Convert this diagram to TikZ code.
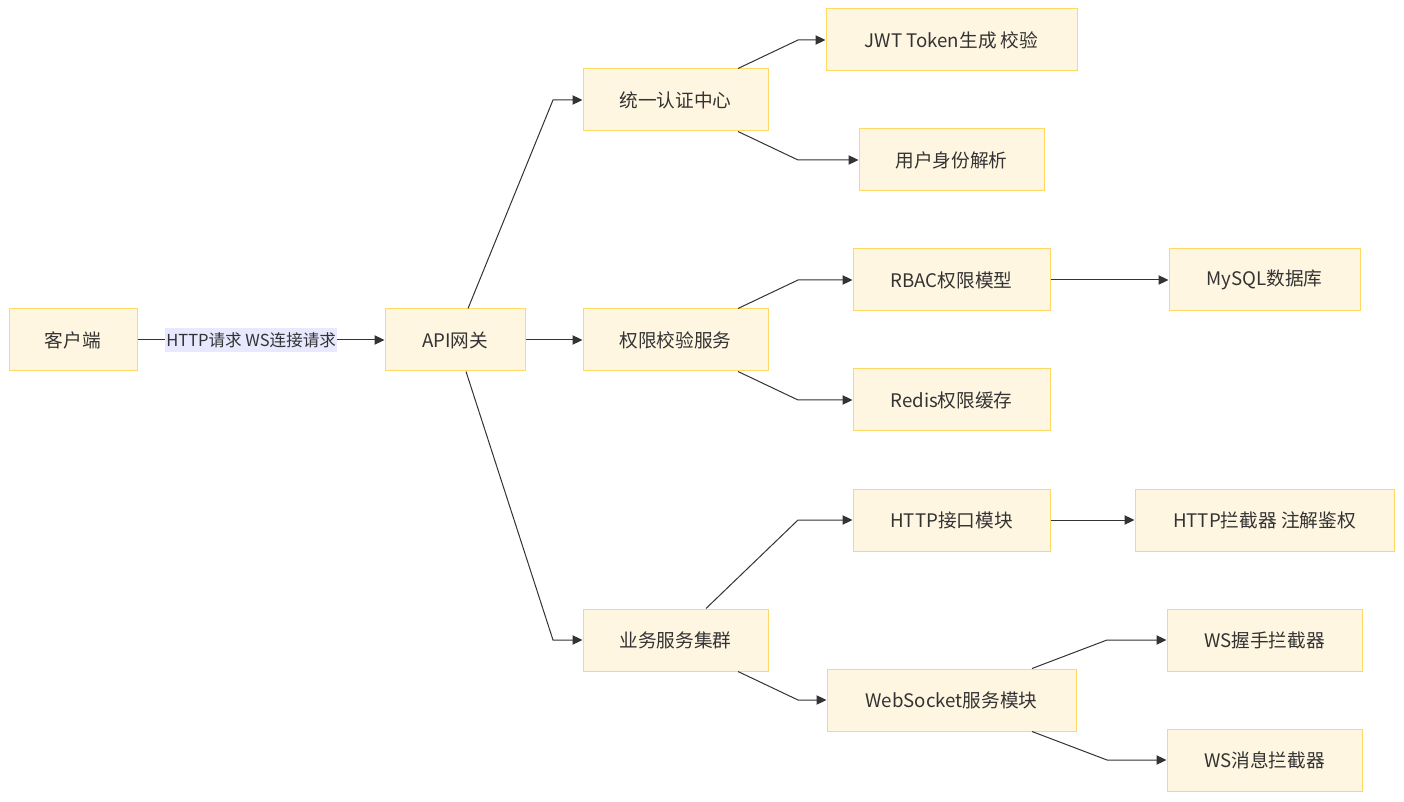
\documentclass[tikz,border=0pt]{standalone}
\usepackage{fontspec}
\setmainfont{Noto Sans CJK SC}
\usetikzlibrary{arrows.meta,calc}
\definecolor{boxfill}{HTML}{FFF6E2}
\definecolor{boxline}{HTML}{FFD966}
\definecolor{txt}{HTML}{333333}
\definecolor{lblbg}{HTML}{E8E8FF}
\begin{document}
\begin{tikzpicture}[x=0.75pt,y=-0.75pt,
  box/.style={draw=boxline,fill=boxfill,line width=0.75pt,text=txt,font=\fontsize{14}{16}\selectfont,inner sep=0pt,minimum height=46.5pt},
  arr/.style={draw=txt,line width=0.75pt,-{Triangle[length=7.5pt,width=7pt]}},
  lbl/.style={fill=lblbg,text=txt,font=\fontsize{12.4}{14}\selectfont,inner xsep=1pt,inner ysep=3pt}]
\useasboundingbox (0,0) rectangle (1404,802);
\fill[white] (0,0) rectangle (1404,802);
\node[box,minimum width=96pt] (client) at (73,340) {客户端};
\node[box,minimum width=105pt] (api) at (455,340) {API网关};
\node[box,minimum width=138.75pt] (auth) at (675.5,100) {统一认证中心};
\node[box,minimum width=138.75pt] (perm) at (675.5,340) {权限校验服务};
\node[box,minimum width=138.75pt] (biz) at (675.5,640) {业务服务集群};
\node[box,minimum width=188.25pt] (jwt) at (951.5,40) {JWT Token生成 校验};
\node[box,minimum width=138.75pt] (ident) at (951.5,160) {用户身份解析};
\node[box,minimum width=147.75pt] (rbac) at (951.5,280) {RBAC权限模型};
\node[box,minimum width=147.75pt] (redis) at (951.5,400) {Redis权限缓存};
\node[box,minimum width=143.25pt] (mysql) at (1264.5,280) {MySQL数据库};
\node[box,minimum width=147.75pt] (httpmod) at (951.5,520) {HTTP接口模块};
\node[box,minimum width=194.25pt] (httpint) at (1264.5,520) {HTTP拦截器 注解鉴权};
\node[box,minimum width=186.75pt] (ws) at (951.5,700) {WebSocket服务模块};
\node[box,minimum width=146.25pt] (wshs) at (1264.5,640) {WS握手拦截器};
\node[box,minimum width=146.25pt] (wsmsg) at (1264.5,760) {WS消息拦截器};
% connectors
\draw[arr] (client.east) -- node[lbl,pos=0.46] {HTTP请求 WS连接请求} (api.west);
\draw[arr] ($(api.north)+(13,0)$) -- (553,100) -- (auth.west);
\draw[arr] (api.east) -- (perm.west);
\draw[arr] ($(api.south)+(11,0)$) -- (553,640) -- (biz.west);
\draw[arr] ($(auth.north)+(62.5,0)$) -- (798,40) -- (jwt.west);
\draw[arr] ($(auth.south)+(62.5,0)$) -- (798,160) -- (ident.west);
\draw[arr] ($(perm.north)+(62.5,0)$) -- (798,280) -- (rbac.west);
\draw[arr] ($(perm.south)+(62.5,0)$) -- (798,400) -- (redis.west);
\draw[arr] (rbac.east) -- (mysql.west);
\draw[arr] ($(biz.north)+(30.5,0)$) -- (798,520) -- (httpmod.west);
\draw[arr] ($(biz.south)+(62.5,0)$) -- (798,700) -- (ws.west);
\draw[arr] (httpmod.east) -- (httpint.west);
\draw[arr] ($(ws.north)+(80.5,0)$) -- (1107,640) -- (wshs.west);
\draw[arr] ($(ws.south)+(80.5,0)$) -- (1107,760) -- (wsmsg.west);
\end{tikzpicture}
\end{document}
